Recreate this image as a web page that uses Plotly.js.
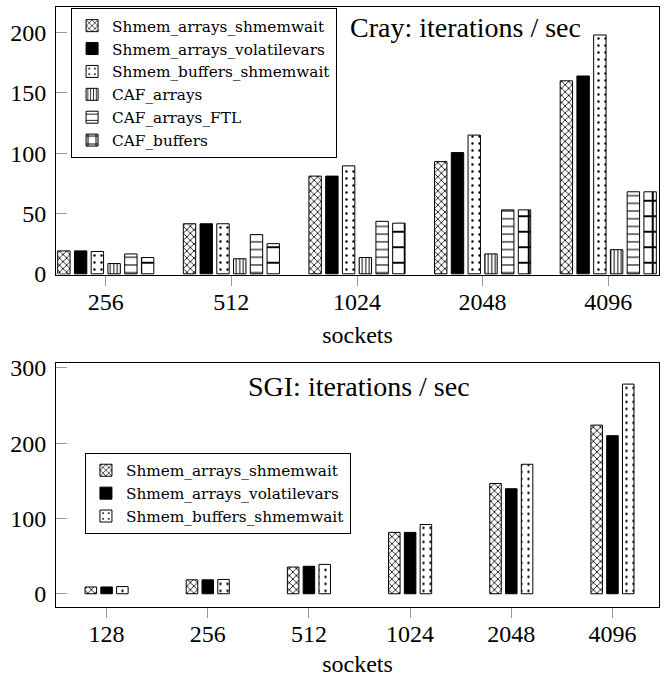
<!DOCTYPE html>
<html>
<head>
<meta charset="utf-8">
<script src="https://cdn.plot.ly/plotly-3.0.1.min.js"></script>
<style>
html, body { margin: 0; padding: 0; background: #fff; }
#chart { width: 665px; height: 679px; }
</style>
</head>
<body>
<div id="chart"></div>
<script>
// ---- data ----
const craySockets = ['256', '512', '1024', '2048', '4096'];
const sgiSockets = ['128', '256', '512', '1024', '2048', '4096'];

const seriesNames = [
  'Shmem_arrays_shmemwait',
  'Shmem_arrays_volatilevars',
  'Shmem_buffers_shmemwait',
  'CAF_arrays',
  'CAF_arrays_FTL',
  'CAF_buffers'
];

const crayShmemArraysShmemwait = [19, 41.5, 81, 93, 160];
const crayShmemArraysVolatilevars = [19, 41.5, 81, 100.5, 164];
const crayShmemBuffersShmemwait = [18.5, 41.5, 89.5, 115, 198];
const crayCafArrays = [8.5, 12.5, 13.5, 16.5, 20];
const crayCafArraysFTL = [16.5, 32.5, 43.5, 53, 68];
const crayCafBuffers = [13.5, 25, 42, 53, 68];

const sgiShmemArraysShmemwait = [9, 18.5, 35.5, 81.5, 146.5, 224];
const sgiShmemArraysVolatilevars = [9, 18.5, 36.5, 81.5, 139.5, 210];
const sgiShmemBuffersShmemwait = [9.5, 19, 39, 92, 172, 278.5];

// ---- styles ----
const line = { color: '#000', width: 1 };
const styles = [
  { color: '#fff', line: line, pattern: { shape: 'x', size: 5, solidity: 0.3, fgcolor: '#000', bgcolor: '#fff' } },
  { color: '#000', line: line },
  { color: '#fff', line: line, pattern: { shape: '.', size: 7, solidity: 0.09, fgcolor: '#000', bgcolor: '#fff' } },
  { color: '#fff', line: line, pattern: { shape: '|', size: 3.5, solidity: 0.28, fgcolor: '#000', bgcolor: '#fff' } },
  { color: '#fff', line: line, pattern: { shape: '-', size: 7.7, solidity: 0.14, fgcolor: '#000', bgcolor: '#fff' } },
  { color: '#fff', line: line, pattern: { shape: '+', size: 15.5, solidity: 0.24, fgcolor: '#000', bgcolor: '#fff' } }
];

const craySeries = [crayShmemArraysShmemwait, crayShmemArraysVolatilevars, crayShmemBuffersShmemwait,
                    crayCafArrays, crayCafArraysFTL, crayCafBuffers];
const sgiSeries = [sgiShmemArraysShmemwait, sgiShmemArraysVolatilevars, sgiShmemBuffersShmemwait];

const traces = [];
craySeries.forEach((vals, i) => {
  traces.push({
    type: 'bar', name: seriesNames[i], x: craySockets, y: vals,
    xaxis: 'x', yaxis: 'y', legend: 'legend', legendgroup: 'c' + i,
    marker: styles[i], hoverinfo: 'skip'
  });
});
const sgiWidth = 0.114, sgiPitch = 0.156;
sgiSeries.forEach((vals, i) => {
  traces.push({
    type: 'bar', name: seriesNames[i], x: sgiSockets, y: vals,
    xaxis: 'x2', yaxis: 'y2', legend: 'legend2', legendgroup: 's' + i,
    width: sgiWidth,
    offset: -1.5 * sgiPitch + (sgiPitch - sgiWidth) / 2 + i * sgiPitch,
    marker: styles[i], hoverinfo: 'skip'
  });
});

const serif = '"Liberation Serif"';
const tickFont = { family: serif, size: 24, color: '#000' };

function xAxis(range, anchor, standoff) {
  return {
    type: 'category', range: range, anchor: anchor, domain: [0, 1],
    showline: true, mirror: true, linecolor: '#000', linewidth: 1,
    ticks: 'outside', ticklen: 10, tickcolor: '#999', tickwidth: 1,
    showgrid: false, zeroline: false, tickfont: tickFont, ticklabelstandoff: -5,
    title: { text: 'sockets', font: { family: serif, size: 24, color: '#000' }, standoff: standoff }
  };
}
function yAxis(range, domain, anchor, tickvals) {
  return {
    range: range, domain: domain, anchor: anchor, tickvals: tickvals,
    showline: true, mirror: true, linecolor: '#000', linewidth: 1,
    ticks: 'inside', ticklen: 11, tickcolor: '#999', tickwidth: 1,
    showgrid: false, zeroline: false, tickfont: tickFont, ticklabelstandoff: 4
  };
}

const legendBase = {
  xanchor: 'left', yanchor: 'top', bgcolor: '#fff', bordercolor: '#000', borderwidth: 1,
  font: { family: '"DejaVu Serif"', size: 15.3, color: '#000' }, tracegroupgap: 0,
  traceorder: 'grouped', itemwidth: 30
};

const layout = {
  width: 665, height: 679,
  margin: { l: 56, r: 6, t: 7, b: 72 },
  paper_bgcolor: '#fff', plot_bgcolor: '#fff',
  barmode: 'group', bargap: 0.2, bargroupgap: 0.26,
  xaxis: xAxis([-0.396, 4.404], 'y', 12),
  yaxis: yAxis([-1, 221.2], [0.5533, 1], 'x', [0, 50, 100, 150, 200]),
  xaxis2: xAxis([-0.5, 5.46], 'y2', 9),
  yaxis2: yAxis([-17.6, 306], [0, 0.406], 'x2', [0, 100, 200, 300]),
  legend: Object.assign({ x: 0.025, y: 0.998 }, legendBase),
  legend2: Object.assign({ x: 0.048, y: 0.257 }, legendBase),
  annotations: [
    { text: 'Cray: iterations / sec', xref: 'paper', yref: 'paper', x: 0.679, y: 0.966,
      xanchor: 'center', yanchor: 'middle', showarrow: false,
      font: { family: serif, size: 28, color: '#000' } },
    { text: 'SGI: iterations / sec', xref: 'paper', yref: 'paper', x: 0.502, y: 0.367,
      xanchor: 'center', yanchor: 'middle', showarrow: false,
      font: { family: serif, size: 28, color: '#000' } }
  ],
  hovermode: false
};

Plotly.newPlot('chart', traces, layout, { staticPlot: true, displayModeBar: false });
</script>
</body>
</html>
